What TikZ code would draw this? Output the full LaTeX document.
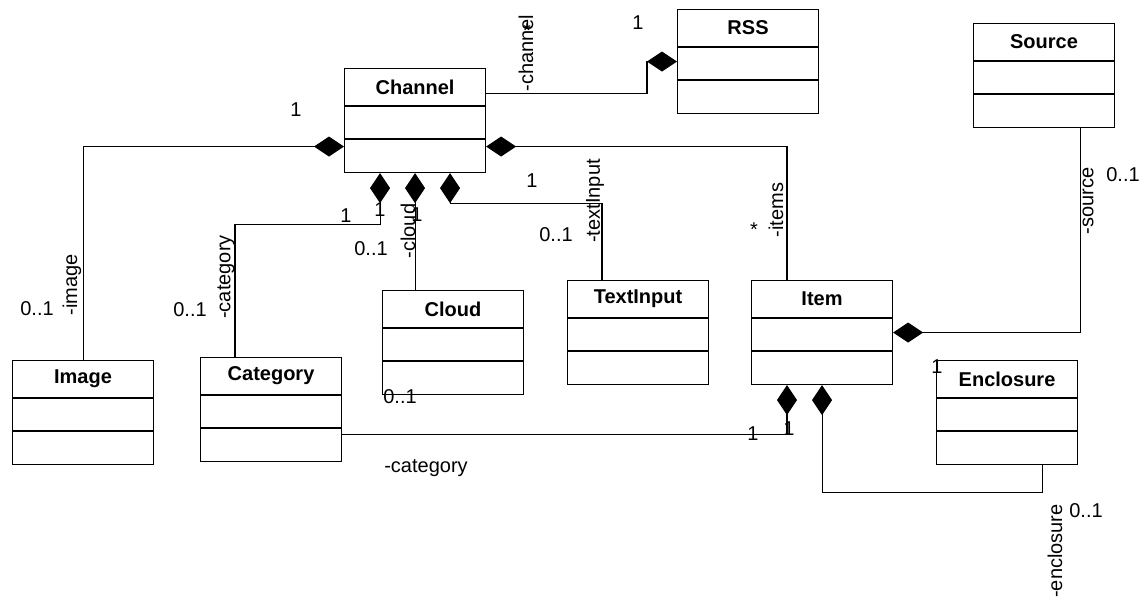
\documentclass[tikz,border=0pt]{standalone}
\usepackage{fontspec}
\setmainfont{Liberation Sans}
\usetikzlibrary{arrows.meta,calc}

\tikzset{
  classbox/.style={draw, anchor=north west, inner sep=0pt,
    minimum width=105.75pt, minimum height=78pt},
  classname/.style={inner sep=0pt, font=\fontsize{15}{18}\selectfont\bfseries},
  composition/.style={-{Diamond[length=22.5pt,width=15pt]}},
  mlabel/.style={inner sep=0pt},
  vlabel/.style={inner sep=0pt, rotate=90}
}

% name, x, y, title
\newcommand{\umlclass}[4]{%
  \node[classbox] (#1) at (#2,#3) {};
  \node[classname] (#1-name) at ($(#1.north)+(0,19)$) {#4};
  \draw ($(#1.north west)+(0,38)$) -- ($(#1.north east)+(0,38)$);
  \draw ($(#1.north west)+(0,71)$) -- ($(#1.north east)+(0,71)$);
}

\begin{document}
\begin{tikzpicture}[x=0.75pt, y=-0.75pt, line width=0.8pt,
    font=\fontsize{15}{18}\selectfont]
  \useasboundingbox (0,0) rectangle (1145,601);

  \umlclass{channel}{344}{68}{Channel}
  \umlclass{rss}{677}{9}{RSS}
  \umlclass{source}{973}{23}{Source}
  \umlclass{image}{12}{360}{Image}
  \umlclass{category}{200}{357}{Category}
  \umlclass{cloud}{382}{290}{Cloud}
  \umlclass{textinput}{567}{280}{TextInput}
  \umlclass{item}{751}{280}{Item}
  \umlclass{enclosure}{936}{360}{Enclosure}

  % associations
  \draw[composition] ([yshift=20.25pt]channel.east) -| ([xshift=-22.5pt]rss.west) -- (rss.west);
  \draw[composition] (image.north) |- ([yshift=-19.5pt]channel.west);
  \draw[composition] ([xshift=27pt]item.north west) |- ([yshift=-19.5pt]channel.east);
  \draw[composition] ([xshift=26.25pt]category.north west)
    |- ([xshift=-26.25pt,yshift=-38.25pt]channel.south) -- ([xshift=-26.25pt]channel.south);
  \draw[composition] (channel.south |- cloud.north) -- (channel.south);
  \draw[composition] ([xshift=26.25pt]textinput.north west)
    |- ([xshift=26.25pt,yshift=-22.5pt]channel.south) -- ([xshift=26.25pt]channel.south);
  \draw[composition] ([xshift=-26.25pt]source.south east) |- (item.east);
  \draw[composition] ([yshift=-18.75pt]category.east) -| ([xshift=27pt]item.south west);
  \draw[composition] ([xshift=-27pt]enclosure.south east) -- ++(0,27) -| (item.south);

  % roles and multiplicities
  \node[vlabel] (channel-role) at (526,53) {-channel};
  \node[mlabel] (channel-mult) at (527,31) {*};
  \node[mlabel] (rss-mult) at (638,23) {1};
  \node[mlabel] (image-one) at (296,110) {1};
  \node[mlabel] (image-mult) at (37,309) {0..1};
  \node[vlabel] (image-role) at (72,285) {-image};
  \node[mlabel] (category-mult) at (190,310) {0..1};
  \node[vlabel] (category-role) at (226,277) {-category};
  \node[mlabel] (category-one) at (346,216) {1};
  \node[mlabel] (category-two) at (380,210) {1};
  \node[vlabel] (cloud-role) at (408,231) {-cloud};
  \node[mlabel] (cloud-one) at (417,215) {1};
  \node[mlabel] (cloud-mult) at (371,249) {0..1};
  \node[mlabel] (cloud-low) at (400,397) {0..1};
  \node[mlabel] (textinput-one) at (532,181) {1};
  \node[mlabel] (textinput-mult) at (556,235) {0..1};
  \node[vlabel] (textinput-role) at (595,201) {-textInput};
  \node[mlabel] (item-mult) at (754,230) {*};
  \node[vlabel] (item-role) at (776,210) {-items};
  \node[vlabel] (source-role) at (1088,201) {-source};
  \node[mlabel] (source-mult) at (1123,175) {0..1};
  \node[mlabel] (itemcat-one) at (753,434) {1};
  \node[mlabel] (itemcat-two) at (789,429) {1};
  \node[mlabel] (itemcat-role) at (426,468) {-category};
  \node[mlabel] (enclosure-one) at (937,367) {1};
  \node[vlabel] (enclosure-role) at (1055,551) {-enclosure};
  \node[mlabel] (enclosure-mult) at (1086,511) {0..1};
\end{tikzpicture}
\end{document}
